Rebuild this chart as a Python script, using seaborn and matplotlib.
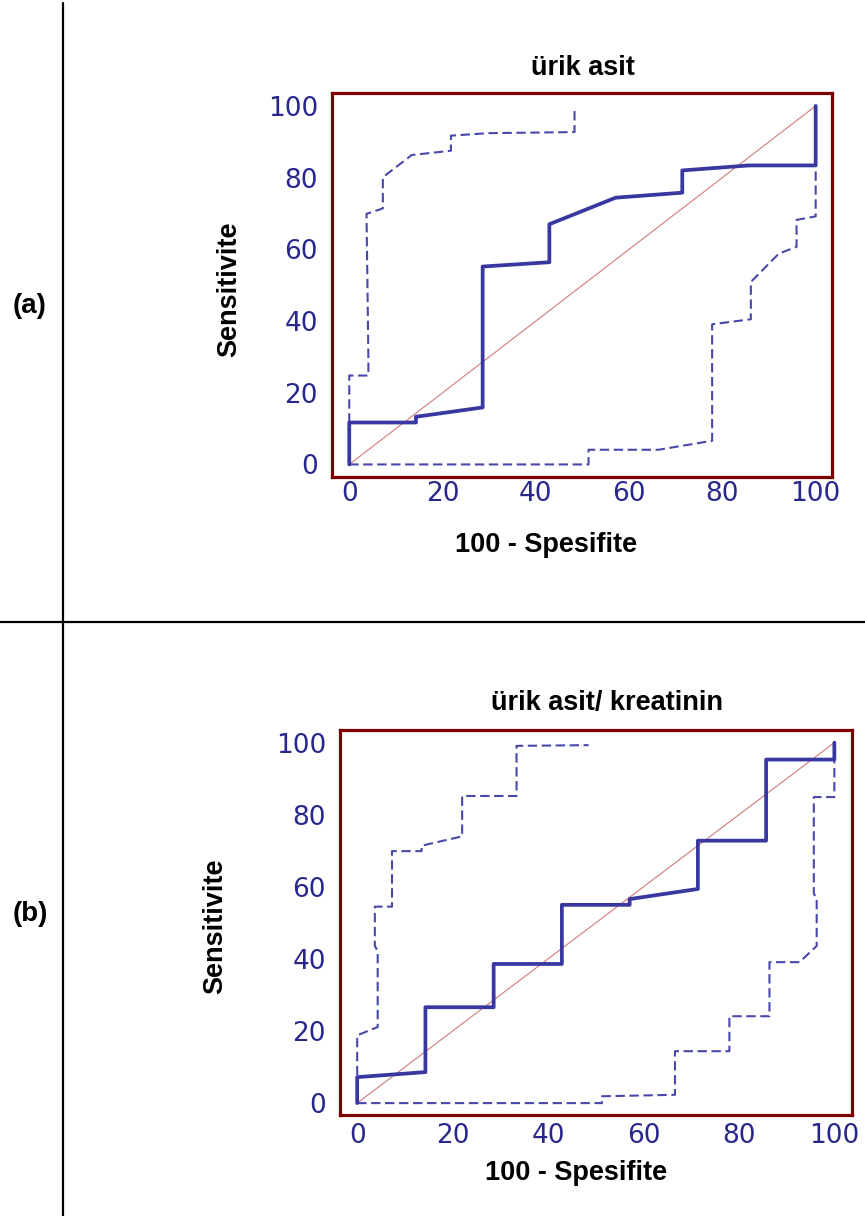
import numpy as np
import pandas as pd
import matplotlib
matplotlib.use("Agg")
import matplotlib.pyplot as plt
from matplotlib.lines import Line2D
from matplotlib.ticker import MultipleLocator
import seaborn as sns

# ---- data: ROC curves with 95% confidence bounds (x = 100 - specificity, y = sensitivity)
a_roc_x = [0, 0, 14.3, 14.3, 28.6, 28.6, 42.9, 42.9, 57.1, 71.4, 71.4, 85.7, 100, 100]
a_roc_y = [0, 11.7, 11.7, 13.3, 15.9, 55.2, 56.4, 67.0, 74.4, 75.8, 82.0, 83.4, 83.4, 100]
a_hi_x = [0, 0, 4.1, 4.1, 3.7, 7.2, 7.2, 13.4, 21.8, 21.8, 29.7, 48.3, 48.3]
a_hi_y = [0, 24.8, 24.8, 29.9, 69.9, 71.4, 80.1, 86.3, 87.5, 91.7, 92.4, 92.7, 99.5]
a_lo_x = [0, 51.3, 51.3, 66.3, 77.8, 77.8, 86.1, 86.1, 92.1, 95.9, 95.9, 100, 100]
a_lo_y = [0, 0, 4.1, 4.1, 6.6, 39.1, 40.5, 50.9, 58.8, 60.7, 68.2, 69.2, 83.4]

b_roc_x = [0, 0, 14.3, 14.3, 28.6, 28.6, 42.9, 42.9, 57.1, 57.1, 71.4, 71.4, 85.7, 85.7, 100, 100]
b_roc_y = [0, 7.2, 8.6, 26.6, 26.6, 38.6, 38.6, 55.0, 55.0, 56.6, 59.4, 72.8, 72.8, 95.3, 95.3, 100]
b_hi_x = [0, 0, 4.3, 4.3, 3.7, 3.7, 7.3, 7.3, 13.5, 13.5, 22.0, 22.0, 33.4, 33.4, 48.5]
b_hi_y = [0, 18.8, 21.1, 42.2, 43.6, 54.5, 54.5, 69.9, 69.9, 71.4, 74.0, 85.2, 85.2, 99.1, 99.3]
b_lo_x = [0, 51.3, 51.3, 66.6, 66.6, 78.0, 78.0, 86.4, 86.4, 92.7, 96.3, 96.3, 95.7, 95.7, 100, 100]
b_lo_y = [0, 0, 1.9, 2.3, 14.4, 14.4, 24.1, 24.1, 39.1, 39.1, 43.6, 57.1, 58.0, 84.9, 84.9, 95.3]

diag = [0, 100]
ticks = [0, 20, 40, 60, 80, 100]
titles = ["ürik asit", "ürik asit/ kreatinin"]
panel_tags = ["(a)", "(b)"]
xlabel = "100 - Spesifite"
ylabel = "Sensitivite"

sns.set_style("white")
plt.rcParams["font.family"] = ["Liberation Sans", "DejaVu Sans"]
plt.rcParams["text.color"] = "black"
plt.rcParams["axes.labelcolor"] = "black"

FRAME = "#7a0000"
CURVE = "#3838a0"
BOUND = "#4848aa"
DIAG = "#d07a7a"
TICKTXT = "#28288c"
BOLD_SIZE = 19.5

fig = plt.figure(figsize=(8.65, 12.16), dpi=100)
W, H = 865, 1216


def px_axes(l, t, r, b):
    return fig.add_axes([l / W, 1 - b / H, (r - l) / W, (b - t) / H])


ax_a = px_axes(332, 93, 832, 477)
ax_b = px_axes(340, 730, 852, 1115)

panels = [
    dict(ax=ax_a, roc=(a_roc_x, a_roc_y), hi=(a_hi_x, a_hi_y), lo=(a_lo_x, a_lo_y),
         xlim=(-3.7, 103.5), ylim=(-3.5, 103.6), xpad=3,
         title_xy=(0.502, 1.066), xl_xy=(0.428, -0.178), yl_xy=(-0.205, 0.49)),
    dict(ax=ax_b, roc=(b_roc_x, b_roc_y), hi=(b_hi_x, b_hi_y), lo=(b_lo_x, b_lo_y),
         xlim=(-3.6, 103.7), ylim=(-3.3, 103.5), xpad=6,
         title_xy=(0.521, 1.070), xl_xy=(0.461, -0.151), yl_xy=(-0.244, 0.49)),
]

for i, p in enumerate(panels):
    ax = p["ax"]
    # chance diagonal
    sns.lineplot(x=diag, y=diag, ax=ax, color=DIAG, linewidth=0.8,
                 estimator=None, sort=False, zorder=1)
    # confidence bounds
    for key in ("hi", "lo"):
        xs, ys = p[key]
        df = pd.DataFrame({"x": xs, "y": ys})
        sns.lineplot(data=df, x="x", y="y", ax=ax, color=BOUND, linewidth=1.5,
                     estimator=None, sort=False, zorder=2)
        ax.lines[-1].set_dashes([4.5, 2.2])
    # ROC curve
    xs, ys = p["roc"]
    df = pd.DataFrame({"x": xs, "y": ys})
    sns.lineplot(data=df, x="x", y="y", ax=ax, color=CURVE, linewidth=2.7,
                 estimator=None, sort=False, zorder=3)

    ax.set_xlim(*p["xlim"])
    ax.set_ylim(*p["ylim"])
    ax.set_xticks(ticks)
    ax.set_yticks(ticks)
    ax.xaxis.set_minor_locator(MultipleLocator(5))
    ax.yaxis.set_minor_locator(MultipleLocator(5))
    ax.tick_params(axis="both", which="both", direction="in", color=FRAME,
                   width=1.6, top=False, right=False)
    ax.tick_params(axis="both", which="major", length=9.5, labelcolor=TICKTXT,
                   labelsize=19, labelfontfamily="DejaVu Sans")
    ax.tick_params(axis="both", which="minor", length=5)
    ax.tick_params(axis="y", which="major", pad=10)
    ax.tick_params(axis="x", which="major", pad=p["xpad"])
    for sp in ax.spines.values():
        sp.set_visible(True)
        sp.set_color(FRAME)
        sp.set_linewidth(2.3)
    ax.grid(False)

    ax.set_xlabel(xlabel, fontsize=BOLD_SIZE, fontweight="bold", va="center")
    ax.set_ylabel(ylabel, fontsize=BOLD_SIZE, fontweight="bold", va="center")
    ax.xaxis.set_label_coords(*p["xl_xy"])
    ax.yaxis.set_label_coords(*p["yl_xy"])
    ax.text(p["title_xy"][0], p["title_xy"][1], titles[i], transform=ax.transAxes,
            ha="center", va="center", fontsize=BOLD_SIZE, fontweight="bold")

# panel tags and table rules
fig.text(30 / W, 1 - 306 / H, panel_tags[0], ha="center", va="center",
         fontsize=20, fontweight="bold")
fig.text(30 / W, 1 - 914 / H, panel_tags[1], ha="center", va="center",
         fontsize=20, fontweight="bold")
fig.add_artist(Line2D([63 / W, 63 / W], [0, 1 - 3 / H], color="black", linewidth=1.6))
fig.add_artist(Line2D([0, 1], [1 - 622 / H, 1 - 622 / H], color="black", linewidth=1.6))

fig.savefig("out.png", dpi=100)
